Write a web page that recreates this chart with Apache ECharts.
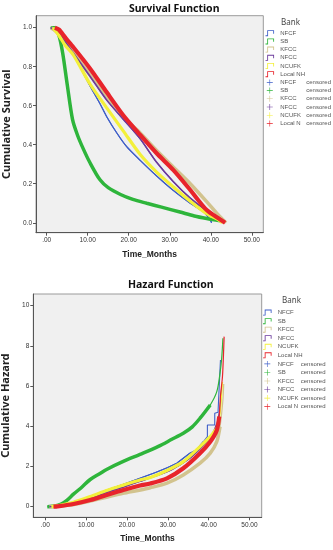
<!DOCTYPE html>
<html>
<head>
<meta charset="utf-8">
<script src="https://cdn.jsdelivr.net/npm/echarts@6/dist/echarts.min.js"></script>
<style>
html,body{margin:0;padding:0;background:#fff;}
#c{width:333px;height:550px;}
</style>
</head>
<body>
<div id="c"></div>
<script>
// ---------- data ----------
var banks = ['NFCF', 'SB', 'KFCC', 'NFCC', 'NCUFK', 'Local NH'];
var xTicks = [0, 10, 20, 30, 40, 50];
var survTicks = [0, 0.2, 0.4, 0.6, 0.8, 1.0];
var hazTicks = [0, 2, 4, 6, 8, 10];

// Survival function: [month, cumulative survival]
var survNFCF = [[1,1],[3,0.96],[6.5,0.86],[10.6,0.70],[13,0.61],[14.6,0.545],[17.1,0.46],[19.5,0.39],[22.8,0.32],[26.8,0.24],[30.9,0.165],[35,0.10],[38.2,0.056],[39.8,0.017],[40.2,0]];
var survSB = [[1,1],[2,1],[3,0.96],[3.9,0.87],[5,0.71],[6.3,0.53],[7.5,0.45],[8.9,0.38],[10.5,0.31],[13,0.22],[15,0.18],[18,0.145],[21,0.12],[24.4,0.10],[28,0.08],[32.5,0.055],[36,0.035],[39,0.022],[42.3,0.01]];
var survKFCC = [[1,1],[3,0.97],[6.5,0.87],[10.6,0.757],[14.6,0.646],[18.7,0.54],[22.8,0.46],[26.8,0.37],[30.9,0.285],[35,0.20],[39,0.108],[41.5,0.048],[43.7,0]];
var survNFCC = [[1,1],[3,0.97],[6.5,0.87],[10.6,0.75],[14.6,0.63],[18.7,0.53],[22.8,0.43],[26.8,0.31],[30.9,0.21],[35,0.126],[39,0.061],[41.5,0.03],[43,0]];
var survNCUFK = [[1.5,1],[3,0.96],[4.5,0.91],[6.5,0.86],[10.6,0.71],[14.6,0.59],[18.7,0.47],[22.8,0.35],[26.8,0.26],[30.9,0.183],[35,0.11],[39,0.046],[41.5,0.02],[42.8,0]];
var survLocalNH = [[2,1],[3,0.99],[4.5,0.95],[6.5,0.90],[10.6,0.79],[14.6,0.67],[18.7,0.55],[22.8,0.45],[26.8,0.356],[30.9,0.27],[35,0.168],[39,0.065],[42.3,0.017],[43.5,0]];

// Hazard function: [month, cumulative hazard]
var hazNFCF = [[1,0],[3,0.03],[7,0.22],[11,0.5],[15,0.82],[19,1.1],[23,1.4],[27,1.7],[30,1.95],[32.2,2.16],[35.4,2.66],[37,2.82],[38.7,3.23],[39.7,3.48],[39.7,4.06],[41.5,4.06],[41.5,4.65],[42.3,4.7],[42.9,7.3]];
var hazSB = [[0.5,0],[2.4,0.03],[4,0.14],[5.2,0.3],[6.9,0.62],[9,0.98],[11,1.35],[13.4,1.65],[15,1.85],[19.1,2.25],[23.2,2.6],[27.7,3.0],[31,3.35],[33.8,3.65],[36,3.97],[37.9,4.4],[40.4,5.06],[42,5.72],[42.8,6.65],[43.2,7.38],[43.5,8.38]];
var hazKFCC = [[1,0],[3,0.02],[7,0.11],[11,0.28],[15,0.47],[19,0.66],[23,0.82],[25.7,0.94],[29.8,1.17],[33.8,1.58],[37.9,2.16],[40.4,2.66],[42,3.23],[42.8,3.98],[43.5,5.3],[43.7,6.1]];
var hazNFCC = [[1,0],[3,0.03],[7,0.18],[11,0.42],[15,0.7],[19,0.97],[23,1.25],[27,1.52],[31,1.85],[35,2.35],[38,2.9],[40.5,3.45],[42,4.1],[42.8,5],[43.2,6]];
var hazNCUFK = [[1.5,0],[3,0.04],[6.9,0.22],[11,0.5],[15,0.8],[19.1,1.07],[23.2,1.33],[25.7,1.45],[29.8,1.8],[33.8,2.24],[37.9,2.99],[40.4,3.48],[42,3.9],[42.8,4.6],[43.4,6.2]];
var hazLocalNH = [[2,0],[3,0.01],[6.9,0.13],[11,0.33],[15,0.58],[19.1,0.83],[23.2,1.05],[25.7,1.15],[29.8,1.41],[33.8,1.91],[37.9,2.66],[40.4,3.23],[42,3.8],[42.6,4.48],[42.9,5.5],[43.4,6.5],[43.8,8.46]];

// month after which censored marks stop
var hazCensorEnd = [39, 41.7, 42.8, 42, 42, 42.6];
var survCensorEnd = [41, 43, 44, 44, 44, 44];

// ---------- styling ----------
var colors = ['#3f5fc8', '#2eb53b', '#d2c38e', '#6b3a9c', '#f3f03a', '#e8242b'];
var lineW = [1.1, 1.2, 1.2, 1.1, 1.2, 1.2];
var bandW = [1.2, 3.5, 3.5, 1.6, 3.2, 4.2];
var survSmooth = [0.25, 0.3, 0.25, 0.25, 0.25, 0.25];
var hazSmooth = [0, 0.3, 0.25, 0.25, 0.25, 0.25];
var survData = [survNFCF, survSB, survKFCC, survNFCC, survNCUFK, survLocalNH];
var hazData = [hazNFCF, hazSB, hazKFCC, hazNFCC, hazNCUFK, hazLocalNH];

var stepIcon = 'path://M0,7L3,7L3,1L9,1L9,4L10,4L10,0L2,0L2,6L0,6Z';
var plusIcon = 'path://M4.5,0H5.5V4.5H10V5.5H5.5V10H4.5V5.5H0V4.5H4.5Z';

var axisFont = 'Liberation Sans, Arial, sans-serif';
var series = [];
function addPanel(dataArr, cut, sm, idx) {
  banks.forEach(function (b, i) {
    series.push({
      name: b, type: 'line', xAxisIndex: idx, yAxisIndex: idx,
      data: dataArr[i], showSymbol: false, symbol: 'none',
      smooth: sm[i],
      lineStyle: { color: colors[i], width: lineW[i] },
      itemStyle: { color: colors[i] }, animation: false, z: 2 + i
    });
  });
  banks.forEach(function (b, i) {
    series.push({
      name: b + ' censored', type: 'line', xAxisIndex: idx, yAxisIndex: idx,
      data: dataArr[i].filter(function (p) { return p[0] <= cut[i]; }),
      showSymbol: false, symbol: 'none',
      smooth: sm[i],
      lineStyle: { color: colors[i], width: bandW[i] },
      itemStyle: { color: colors[i] }, animation: false, z: 10 + i
    });
  });
}
addPanel(survData, survCensorEnd, survSmooth, 0);
addPanel(hazData, hazCensorEnd, hazSmooth, 1);

function legendData() {
  var d = [];
  banks.forEach(function (b) { d.push({ name: b, icon: stepIcon }); });
  banks.forEach(function (b) { d.push({ name: b + ' censored', icon: plusIcon }); });
  return d;
}
function legendFormatter(name) {
  var k = name.indexOf(' censored');
  if (k > 0) {
    var base = name.slice(0, k);
    if (base === 'Local NH') base = 'Local N';
    return '{a|' + base + '}{b|censored}';
  }
  return name;
}
function makeLegend(left, top, gap, nameW) {
  return {
    orient: 'vertical', left: left, top: top, padding: 0, itemWidth: 11, itemHeight: 6, itemGap: gap,
    selectedMode: false, data: legendData(), formatter: legendFormatter,
    textStyle: {
      fontSize: 6, color: '#555', fontFamily: axisFont, lineHeight: 6,
      rich: {
        a: { width: nameW, fontSize: 6, color: '#555', fontFamily: axisFont, lineHeight: 6 },
        b: { fontSize: 6, color: '#555', fontFamily: axisFont, lineHeight: 6 }
      }
    }
  };
}

function xAxisCfg(idx, min, max) {
  return {
    type: 'value', gridIndex: idx, min: min, max: max,
    name: 'Time_Months', nameLocation: 'middle', nameGap: 17,
    nameTextStyle: { fontSize: 8.5, fontWeight: 'bold', color: '#222', fontFamily: axisFont },
    axisLine: { show: true, onZero: false, lineStyle: { color: '#555', width: 1 } },
    axisTick: { show: true, length: 3, customValues: xTicks, lineStyle: { color: '#555' } },
    axisLabel: { customValues: xTicks, fontSize: 6.5, color: '#333', margin: 4, fontFamily: axisFont,
      formatter: function (v) { return v === 0 ? '.00' : v.toFixed(2); } },
    splitLine: { show: false }
  };
}
function yAxisCfg(idx, min, max, ticks, name, gap, fmt) {
  return {
    type: 'value', gridIndex: idx, min: min, max: max,
    name: name, nameLocation: 'middle', nameGap: gap,
    nameTextStyle: { fontSize: 11, fontWeight: 'bold', color: '#222', fontFamily: 'Noto Sans, sans-serif' },
    axisLine: { show: true, onZero: false, lineStyle: { color: '#555', width: 1 } },
    axisTick: { show: true, length: 3, customValues: ticks, lineStyle: { color: '#555' } },
    axisLabel: { customValues: ticks, fontSize: 6.5, color: '#333', margin: 4, fontFamily: axisFont, formatter: fmt },
    splitLine: { show: false }
  };
}

var titleFont = 'Noto Sans, sans-serif';
var chart = echarts.init(document.getElementById('c'), null, { renderer: 'canvas' });
chart.setOption({
  backgroundColor: '#ffffff',
  animation: false,
  title: [
    { text: 'Survival Function', left: 129, top: 3.5, padding: 0, textStyle: { fontSize: 10.5, fontWeight: 'bold', color: '#111', fontFamily: titleFont } },
    { text: 'Hazard Function', left: 128, top: 280, padding: 0, textStyle: { fontSize: 10.5, fontWeight: 'bold', color: '#111', fontFamily: titleFont } },
    { text: 'Bank', left: 281, top: 19, padding: 0, textStyle: { fontSize: 8, fontWeight: 'normal', color: '#444', fontFamily: titleFont } },
    { text: 'Bank', left: 282, top: 297, padding: 0, textStyle: { fontSize: 8, fontWeight: 'normal', color: '#444', fontFamily: titleFont } }
  ],
  legend: [
    makeLegend(265.5, 30.2, 2.2, 26),
    makeLegend(263, 309.6, 2.55, 23)
  ],
  grid: [
    { left: 36, top: 15.7, width: 227.3, height: 217, outerBoundsMode: 'none', containLabel: false, show: true, backgroundColor: '#f0f0f0', borderColor: '#9a9a9a', borderWidth: 1 },
    { left: 33.3, top: 294, width: 228.4, height: 223.3, outerBoundsMode: 'none', containLabel: false, show: true, backgroundColor: '#f0f0f0', borderColor: '#9a9a9a', borderWidth: 1 }
  ],
  xAxis: [xAxisCfg(0, -2.6, 52.8), xAxisCfg(1, -2.94, 53.0)],
  yAxis: [
    yAxisCfg(0, -0.051, 1.0615, survTicks, 'Cumulative Survival', 17, function (v) { return v.toFixed(1); }),
    yAxisCfg(1, -0.53, 10.58, hazTicks, 'Cumulative Hazard', 14.5, function (v) { return String(Math.round(v)); })
  ],
  series: series
});
</script>
</body>
</html>
